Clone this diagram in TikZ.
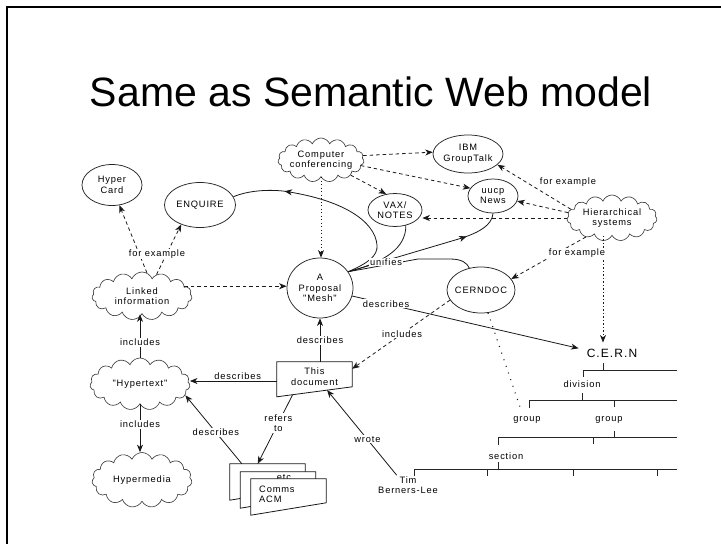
\documentclass[tikz,border=0pt]{standalone}
\usepackage{fontspec}
\usetikzlibrary{shapes.geometric,shapes.symbols,arrows.meta,calc,decorations.markings}
\newfontfamily\lblfont[LetterSpace=9]{Liberation Sans}
\newfontfamily\ttlfont{Liberation Sans}
\begin{document}
\begin{tikzpicture}[x=1pt,y=-1pt,
  every node/.style={font=\lblfont\fontsize{9.3}{10.5}\selectfont, text=black},
  >={Stealth[length=7.5pt,width=6pt,inset=2.2pt]},
  ln/.style={draw=black!90, line width=0.8pt},
  dsh/.style={ln, dash pattern=on 3.5pt off 3pt},
  dtt/.style={ln, line width=1pt, dash pattern=on 1.2pt off 2.3pt},
  sparsedots/.style={ln, line width=1.1pt, dash pattern=on 1pt off 6pt},
  ell/.style={ellipse, draw=black!85, line width=0.75pt, inner sep=-4pt, align=center},
  cld/.style={cloud, cloud puffs=15, cloud puff arc=135, cloud ignores aspect, draw=black!75, line width=0.65pt, inner xsep=-18pt, inner ysep=-3pt, align=center},
  lbl/.style={fill=white, inner sep=1pt},
  docnode/.style={minimum width=75pt, inner sep=0pt, align=center},
  docline/.style={ln, fill=white},
  midarrow/.style={postaction={decorate}, decoration={markings, mark=at position #1 with {\arrow{>}}}},
  tree/.style={draw=black!85, line width=1pt},
]
\useasboundingbox (0,0) rectangle (721,544);
\fill[white] (0,0) rectangle (721,544);
\draw[line width=2.2pt] (7,545) -- (7,7) -- (722,7);

\node[font=\ttlfont\fontsize{41}{48}\selectfont, inner sep=0pt, anchor=base] (title) at (371,106) {Same as Semantic Web model};

% ---- nodes
\node[ell, minimum width=60pt, minimum height=41pt] (hyper) at (112,185) {Hyper\\Card};
\node[ell, minimum width=71pt, minimum height=45pt] (enquire) at (200,205) {ENQUIRE};
\node[cld, minimum width=86pt, minimum height=44pt] (compconf) at (321,160) {Computer\\conferencing};
\node[ell, minimum width=70pt, minimum height=38pt] (ibm) at (468,154) {IBM\\GroupTalk};
\node[ell, minimum width=50pt, minimum height=34pt] (uucp) at (493,196) {uucp\\News};
\node[ell, minimum width=54pt, minimum height=33pt] (vax) at (395,210) {VAX/\\NOTES};
\node[cld, minimum width=90pt, minimum height=46pt] (hier) at (612,218) {Hierarchical\\systems};
\node[ell, minimum width=66pt, minimum height=60pt] (mesh) at (320,288) {A\\Proposal\\"Mesh"};
\node[ell, minimum width=68pt, minimum height=46pt] (cerndoc) at (481,290) {CERNDOC};
\node[cld, minimum width=100pt, minimum height=48pt] (linked) at (142,296) {Linked\\information};
\node[cld, minimum width=100pt, minimum height=52pt] (hypertext) at (140,384) {"Hypertext"};
\node[cld, minimum width=100pt, minimum height=55pt] (hypermedia) at (142,480) {Hypermedia};
\node[font=\lblfont\fontsize{12}{14}\selectfont, inner xsep=8pt, inner ysep=6pt] (cern) at (612,353) {C.E.R.N};
\node[align=center, inner sep=1pt] (tim) at (408,485) {Tim\\Berners-Lee};

% ---- documents
\node[docnode, minimum height=29pt] (thisdoc) at (314.5,376.5) {This\\document};
\draw[ln] (thisdoc.north west) -- (thisdoc.north east) -- ++(0,25) coordinate (thisdoc-se) -- ([yshift=-35pt]thisdoc.north west) coordinate (thisdoc-sw) -- cycle;

\node[docnode, minimum height=36pt] (comms3) at (267.5,482) {};
\filldraw[docline] (comms3.north west) -- (comms3.north east) -- ++(0,24) -- (comms3.south west) -- cycle;
\node[docnode, minimum height=36pt] (comms2) at (278,490) {};
\filldraw[docline] (comms2.north west) -- (comms2.north east) -- ++(0,24) -- (comms2.south west) -- cycle;
\node[inner sep=0pt] (etc) at (284,478) {etc};
\node[docnode, minimum height=36pt] (comms1) at (288.5,497) {};
\filldraw[docline] (comms1.north west) -- (comms1.north east) -- ++(0,24) -- (comms1.south west) -- cycle;
\node[inner sep=0pt, anchor=north west, align=left] (acm) at (259,485.5) {Comms\\ACM};

% ---- tree
\coordinate (cernroot) at (603,363);
\draw[tree] (cernroot) -- (603,370);
\draw[tree] (583,377) -- (583,370) -- (677,370);
\node (division) at (582,384) {division};
\draw[tree] (582,393) -- (582,400);
\draw[tree] (529,408) -- (529,400) -- (677,400);
\draw[tree] (614,400) -- (614,407);
\node (group1) at (527,420) {group};
\node (group2) at (609,420) {group};
\draw[tree] (614,431) -- (614,437);
\draw[tree] (498,445) -- (498,437) -- (677,437);
\draw[tree] (593,437) -- (593,444);
\node (section) at (506,456) {section};
\draw[tree] (498,462) -- (498,469);
\draw[tree] (414,476) -- (414,469) -- (677,469);
\draw[tree] (487,469) -- (487,476);
\draw[tree] (573,469) -- (573,476);
\draw[tree] (657,469) -- (657,476);

% ---- connectors: linked information
\draw[dsh,->] (linked.78) -- (hyper.-70);
\draw[dsh,->] (linked.56) -- (enquire.-134);
\node[lbl] (fe1) at (157,254) {for example};
\draw[dsh,->] (linked.13) -- (linked.13 -| mesh.west);
\draw[ln,->] (hypertext.north) -- (hypertext.north |- linked.south) node[lbl, pos=0.35] (inc1) {includes};
\draw[ln,->] (hypertext.south) -- (hypertext.south |- hypermedia.north) node[lbl, pos=0.42] (inc2) {includes};

% ---- documents connectors
\draw[ln,->] ([yshift=-4.5pt]thisdoc.west) coordinate (tdw) -- (tdw -| hypertext.east) node[pos=0.45, above, inner sep=1pt] (des1) {describes};
\draw[ln,->] ($(comms3.north west)!0.16!(comms3.north east)$) -- (hypertext.-14) node[lbl, pos=0.46] (des2) {describes};
\draw[ln,->] ($(thisdoc-sw)!0.21!(thisdoc-se)$) -- ($(comms3.north west)!0.37!(comms3.north east)$) node[lbl, pos=0.41, align=center] (ref) {refers\\to};
\draw[ln,->] (mesh.south |- thisdoc.north) -- (mesh.south) node[lbl, midway] (des3) {describes};
\draw[dsh,->] (cerndoc.-162) -- ([yshift=-7pt]thisdoc.north east) node[lbl, pos=0.49] (inc3) {includes};
\draw[ln,->] (tim.139) -- ($(thisdoc-sw)!0.667!(thisdoc-se)$) node[lbl, pos=0.42] (wrote) {wrote};
\draw[ln,->] (mesh.-14) -- (cern.172) node[lbl, pos=0.15] (des4) {describes};

% ---- unifies
\draw[ln, midarrow=0.75] (mesh.30) .. controls (368,263) and (378,256) .. (377,245) .. controls (375,222) and (345,200) .. (283,191) .. controls (262,189) and (245,192) .. (enquire.14);
\draw[ln] (vax.-55) .. controls (406,248) and (385,262) .. (mesh.30);
\draw[ln, midarrow=0.77] (mesh.30) -- (462,238) .. controls (480,232) and (492,225) .. (uucp.south);
\draw[ln] (mesh.30) -- (418,259) -- (450,259) .. controls (462,259) and (467,263) .. (cerndoc.118);
\node[lbl] (unifies) at (386,262) {unifies};

% ---- computer conferencing
\draw[dsh,->] (compconf.6) -- (ibm.177);
\draw[dsh,->] (compconf.-8) -- (uucp.161);
\draw[dsh,->] (compconf.-27) -- (vax.119);
\draw[dtt,->] (compconf.south) -- (compconf.south |- mesh.north);

% ---- hierarchical systems
\draw[dsh,->] (hier.168) -- (ibm.-20);
\node (fe2) at (568,182) {for example};
\draw[dsh,->] (hier.173) -- (uucp.-12);
\draw[dsh,->] (hier.west) -- (hier.west -| vax.east);
\draw[dsh,->] (hier.-144) -- (cerndoc.20);
\draw[dtt,->] (hier.south -| cernroot) -- (cernroot |- cern.north);
\node[lbl] (fe3) at (577,253) {for example};

% ---- CERNDOC to group
\coordinate (grpdot) at (520,407);
\draw[sparsedots] (cerndoc.-73) -- (grpdot);
\end{tikzpicture}
\end{document}
